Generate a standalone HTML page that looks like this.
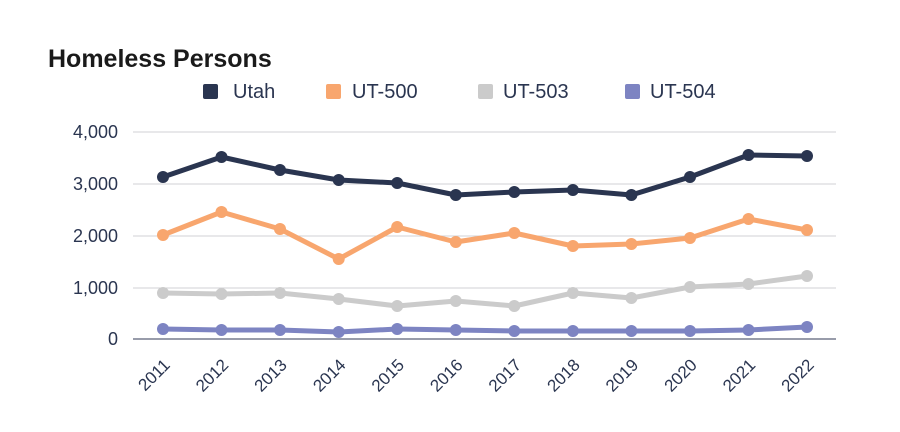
<!DOCTYPE html>
<html><head><meta charset="utf-8"><style>
body{margin:0;background:#fff;}
svg{display:block;font-family:"Liberation Sans",sans-serif;}
</style></head><body>
<svg width="900" height="432" viewBox="0 0 900 432">
<text x="48" y="67" font-size="25" font-weight="bold" fill="#1a1a1a">Homeless Persons</text>
<rect x="203" y="84" width="15" height="15" rx="2" fill="#2a3550"/><text x="233" y="98" font-size="20" fill="#2a3550">Utah</text>
<rect x="326" y="84" width="15" height="15" rx="2" fill="#f8a66e"/><text x="352" y="98" font-size="20" fill="#2a3550">UT-500</text>
<rect x="478" y="84" width="15" height="15" rx="2" fill="#cbcbcb"/><text x="503" y="98" font-size="20" fill="#2a3550">UT-503</text>
<rect x="625" y="84" width="15" height="15" rx="2" fill="#7d84c2"/><text x="650" y="98" font-size="20" fill="#2a3550">UT-504</text>
<g stroke="#d0d0d4" stroke-width="1">
<line x1="133" y1="132" x2="836" y2="132"/><line x1="133" y1="184" x2="836" y2="184"/><line x1="133" y1="236" x2="836" y2="236"/><line x1="133" y1="288" x2="836" y2="288"/>
</g>
<line x1="133" y1="339" x2="836" y2="339" stroke="#5a6078" stroke-width="1.2"/>
<g font-size="18" fill="#2a3550" text-anchor="end">
<text x="118" y="138">4,000</text><text x="118" y="190">3,000</text><text x="118" y="242">2,000</text><text x="118" y="294">1,000</text><text x="118" y="345">0</text>
</g>
<g font-size="17" fill="#2a3550" text-anchor="end">
<text transform="translate(171,366) rotate(-45)">2011</text>
<text transform="translate(229.5,366) rotate(-45)">2012</text>
<text transform="translate(288,366) rotate(-45)">2013</text>
<text transform="translate(346.7,366) rotate(-45)">2014</text>
<text transform="translate(405.2,366) rotate(-45)">2015</text>
<text transform="translate(463.8,366) rotate(-45)">2016</text>
<text transform="translate(522.3,366) rotate(-45)">2017</text>
<text transform="translate(580.9,366) rotate(-45)">2018</text>
<text transform="translate(639.4,366) rotate(-45)">2019</text>
<text transform="translate(698,366) rotate(-45)">2020</text>
<text transform="translate(756.5,366) rotate(-45)">2021</text>
<text transform="translate(815,366) rotate(-45)">2022</text>
</g>
<g fill="none" stroke-width="5" stroke-linejoin="round">
<polyline stroke="#cbcbcb" points="163,293 221.5,294 280,293 338.7,299 397.2,306 455.8,301 514.3,306 572.9,293 631.4,298 690,287 748.5,284 807,276"/>
<polyline stroke="#7d84c2" points="163,329 221.5,330 280,330 338.7,332 397.2,329 455.8,330 514.3,331 572.9,331 631.4,331 690,331 748.5,330 807,327"/>
<polyline stroke="#f8a66e" points="163,235 221.5,212 280,229 338.7,259 397.2,227 455.8,242 514.3,233 572.9,246 631.4,244 690,238 748.5,219 807,230"/>
<polyline stroke="#2a3550" points="163,177 221.5,157 280,170 338.7,180 397.2,183 455.8,195 514.3,192 572.9,190 631.4,195 690,177 748.5,155 807,156"/>
</g>
<g fill="#cbcbcb"><circle cx="163" cy="293" r="6"/><circle cx="221.5" cy="294" r="6"/><circle cx="280" cy="293" r="6"/><circle cx="338.7" cy="299" r="6"/><circle cx="397.2" cy="306" r="6"/><circle cx="455.8" cy="301" r="6"/><circle cx="514.3" cy="306" r="6"/><circle cx="572.9" cy="293" r="6"/><circle cx="631.4" cy="298" r="6"/><circle cx="690" cy="287" r="6"/><circle cx="748.5" cy="284" r="6"/><circle cx="807" cy="276" r="6"/></g>
<g fill="#7d84c2"><circle cx="163" cy="329" r="6"/><circle cx="221.5" cy="330" r="6"/><circle cx="280" cy="330" r="6"/><circle cx="338.7" cy="332" r="6"/><circle cx="397.2" cy="329" r="6"/><circle cx="455.8" cy="330" r="6"/><circle cx="514.3" cy="331" r="6"/><circle cx="572.9" cy="331" r="6"/><circle cx="631.4" cy="331" r="6"/><circle cx="690" cy="331" r="6"/><circle cx="748.5" cy="330" r="6"/><circle cx="807" cy="327" r="6"/></g>
<g fill="#f8a66e"><circle cx="163" cy="235" r="6"/><circle cx="221.5" cy="212" r="6"/><circle cx="280" cy="229" r="6"/><circle cx="338.7" cy="259" r="6"/><circle cx="397.2" cy="227" r="6"/><circle cx="455.8" cy="242" r="6"/><circle cx="514.3" cy="233" r="6"/><circle cx="572.9" cy="246" r="6"/><circle cx="631.4" cy="244" r="6"/><circle cx="690" cy="238" r="6"/><circle cx="748.5" cy="219" r="6"/><circle cx="807" cy="230" r="6"/></g>
<g fill="#2a3550"><circle cx="163" cy="177" r="6"/><circle cx="221.5" cy="157" r="6"/><circle cx="280" cy="170" r="6"/><circle cx="338.7" cy="180" r="6"/><circle cx="397.2" cy="183" r="6"/><circle cx="455.8" cy="195" r="6"/><circle cx="514.3" cy="192" r="6"/><circle cx="572.9" cy="190" r="6"/><circle cx="631.4" cy="195" r="6"/><circle cx="690" cy="177" r="6"/><circle cx="748.5" cy="155" r="6"/><circle cx="807" cy="156" r="6"/></g>
</svg>
</body></html>
